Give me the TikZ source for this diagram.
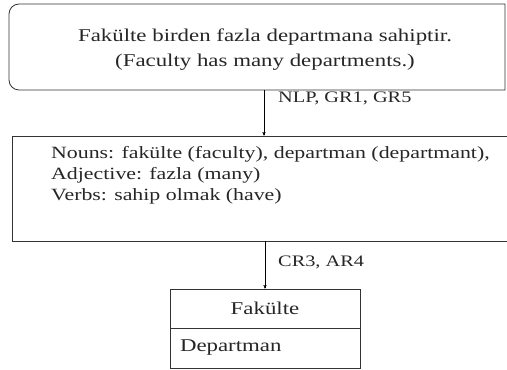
\documentclass[tikz,border=0pt]{standalone}
\usepackage{fontspec}
\setmainfont{Liberation Serif}[FakeStretch=1.27]
\usetikzlibrary{arrows}

\tikzset{
  boxline/.style={draw=black!80, line width=0.8pt},
  txt/.style={inner sep=0pt, text=black!85, font=\fontsize{18}{25}\selectfont},
  edgelabel/.style={txt, anchor=west, font=\fontsize{16}{20}\selectfont},
}

\begin{document}
\begin{tikzpicture}[x=1pt,y=1pt,>=stealth']
    \useasboundingbox (0,0) rectangle (507,370);
    \clip (0,0) rectangle (507,370);

    % sentence
    \node[txt, align=center] (sent) at (265,320) {Fakülte birden fazla departmana sahiptir.\\(Faculty has many departments.)};
    \draw[boxline] (505,366) [rounded corners=10pt] -- (9,366) -- (9,280) [sharp corners] -- (505,280) -- cycle;
    \coordinate (sentbot) at (264,280);

    % parts of speech
    \node[boxline, minimum width=500pt, minimum height=105pt] (parts) at (262,181.5) {};
    \node[txt, anchor=north west, align=left, font=\fontsize{17.2}{21}\selectfont] (partstxt) at (51,224) {Nouns: fakülte (faculty), departman (departmant),\\Adjective: fazla (many)\\Verbs: sahip olmak (have)};

    % class
    \node[boxline, minimum width=190pt, minimum height=39pt, txt] (clsname) at (265,61.5) {Fakülte};
    \node[boxline, minimum width=190pt, minimum height=40pt, txt, text width=170pt, align=left] (clsattr) at (265,22) {Departman};

    \draw[->] (sentbot) -- (sentbot |- parts.north);
    \node[edgelabel] (lbl1) at (278,272) {NLP, GR1, GR5};
    \draw[->] (parts.south -| clsname.north) -- (clsname.north);
    \node[edgelabel] (lbl2) at (278,108) {CR3, AR4};
\end{tikzpicture}
\end{document}
